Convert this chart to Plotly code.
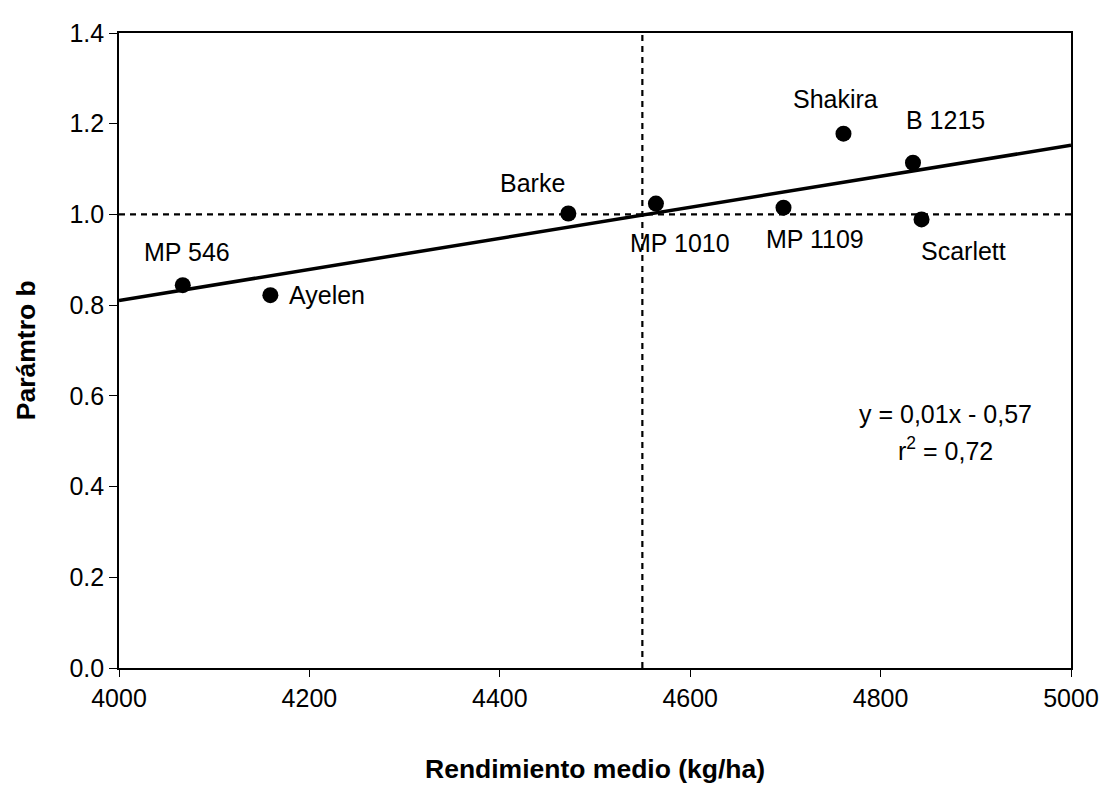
import numpy as np
import plotly.graph_objects as go

# ---- data ----
cultivars = ["MP 546", "Ayelen", "Barke", "MP 1010", "MP 1109", "Shakira", "B 1215", "Scarlett"]
yield_kg_ha = [4067, 4159, 4472, 4564, 4698, 4761, 4834, 4843]
param_b = [0.844, 0.822, 1.002, 1.024, 1.015, 1.178, 1.114, 0.989]

x_range = [4000, 5000]
y_range = [0.0, 1.4]
ref_b = 1.0
x_tick_vals = [4000, 4200, 4400, 4600, 4800, 5000]
y_tick_vals = [0.0, 0.2, 0.4, 0.6, 0.8, 1.0, 1.2, 1.4]

eq_text = "y = 0,01x - 0,57"
r2_text = "r<sup>2</sup> = 0,72"
x_title = "Rendimiento medio (kg/ha)"
y_title = "Parámtro b"

# label offsets (pixels) relative to each dot: (dx, dy up)
label_dx = [4, 57, -36, 24, 31, -8, 33, 42]
label_dy = [33, 0, 31, -39, -31, 35, 43, -32]

FONT = "Liberation Sans, Arial, sans-serif"

# regression line computed from the data
slope, intercept = np.polyfit(yield_kg_ha, param_b, 1)
fit_x = np.array(x_range, dtype=float)
fit_y = slope * fit_x + intercept
mean_yield = float(np.mean(yield_kg_ha))

fig = go.Figure()

# horizontal dotted reference line at b = 1
fig.add_trace(go.Scatter(x=x_range, y=[ref_b, ref_b], mode="lines",
                         line=dict(color="black", width=2.2, dash="6px,5px"),
                         hoverinfo="skip", showlegend=False))
# vertical dotted line at mean yield
fig.add_trace(go.Scatter(x=[mean_yield, mean_yield], y=y_range, mode="lines",
                         line=dict(color="black", width=2.2, dash="6px,5px"),
                         hoverinfo="skip", showlegend=False))
# regression line
fig.add_trace(go.Scatter(x=fit_x, y=fit_y, mode="lines",
                         line=dict(color="black", width=3.5),
                         hoverinfo="skip", showlegend=False))
# points
fig.add_trace(go.Scatter(x=yield_kg_ha, y=param_b, mode="markers",
                         marker=dict(color="black", size=16),
                         text=cultivars, showlegend=False))

annotations = []
for name, xv, yv, dx, dy in zip(cultivars, yield_kg_ha, param_b, label_dx, label_dy):
    annotations.append(dict(x=xv, y=yv, xref="x", yref="y", text=name, showarrow=False,
                            xanchor="center", yanchor="middle", xshift=dx, yshift=dy,
                            font=dict(family=FONT, size=25, color="black")))

annotations.append(dict(x=0.868, y=0.40, xref="paper", yref="paper", text=eq_text,
                        showarrow=False, xanchor="center", yanchor="middle",
                        font=dict(family=FONT, size=25, color="black")))
annotations.append(dict(x=0.868, y=0.345, xref="paper", yref="paper", text=r2_text,
                        showarrow=False, xanchor="center", yanchor="middle",
                        font=dict(family=FONT, size=25, color="black")))
annotations.append(dict(x=0.5, y=-0.159, xref="paper", yref="paper", text="<b>" + x_title + "</b>",
                        showarrow=False, xanchor="center", yanchor="middle",
                        font=dict(family=FONT, size=26.5, color="black")))
annotations.append(dict(x=-0.098, y=0.5, xref="paper", yref="paper", text="<b>" + y_title + "</b>",
                        showarrow=False, xanchor="center", yanchor="middle", textangle=-90,
                        font=dict(family=FONT, size=26.5, color="black")))

# the page body adds an 8px offset, so the figure is sized to the visible window
fig.update_layout(
    width=1102, height=777,
    margin=dict(l=111, r=32, t=11, b=117),
    paper_bgcolor="white", plot_bgcolor="white",
    font=dict(family=FONT, size=25, color="black"),
    annotations=annotations,
    showlegend=False,
)
fig.update_xaxes(range=x_range, tickvals=x_tick_vals, showgrid=False, zeroline=False,
                 showline=True, linecolor="black", linewidth=1.7, mirror=True,
                 ticks="outside", ticklen=7, tickwidth=1, tickcolor="black",
                 ticklabeloverflow="allow",
                 tickfont=dict(family=FONT, size=25, color="black"))
fig.update_yaxes(range=y_range, tickvals=y_tick_vals, tickformat=".1f", showgrid=False,
                 zeroline=False, showline=True, linecolor="black", linewidth=1.7, mirror=True,
                 ticks="outside", ticklen=8, tickwidth=1, tickcolor="black",
                 ticklabeloverflow="allow",
                 tickfont=dict(family=FONT, size=25, color="black"))

fig.write_html("out.html")
